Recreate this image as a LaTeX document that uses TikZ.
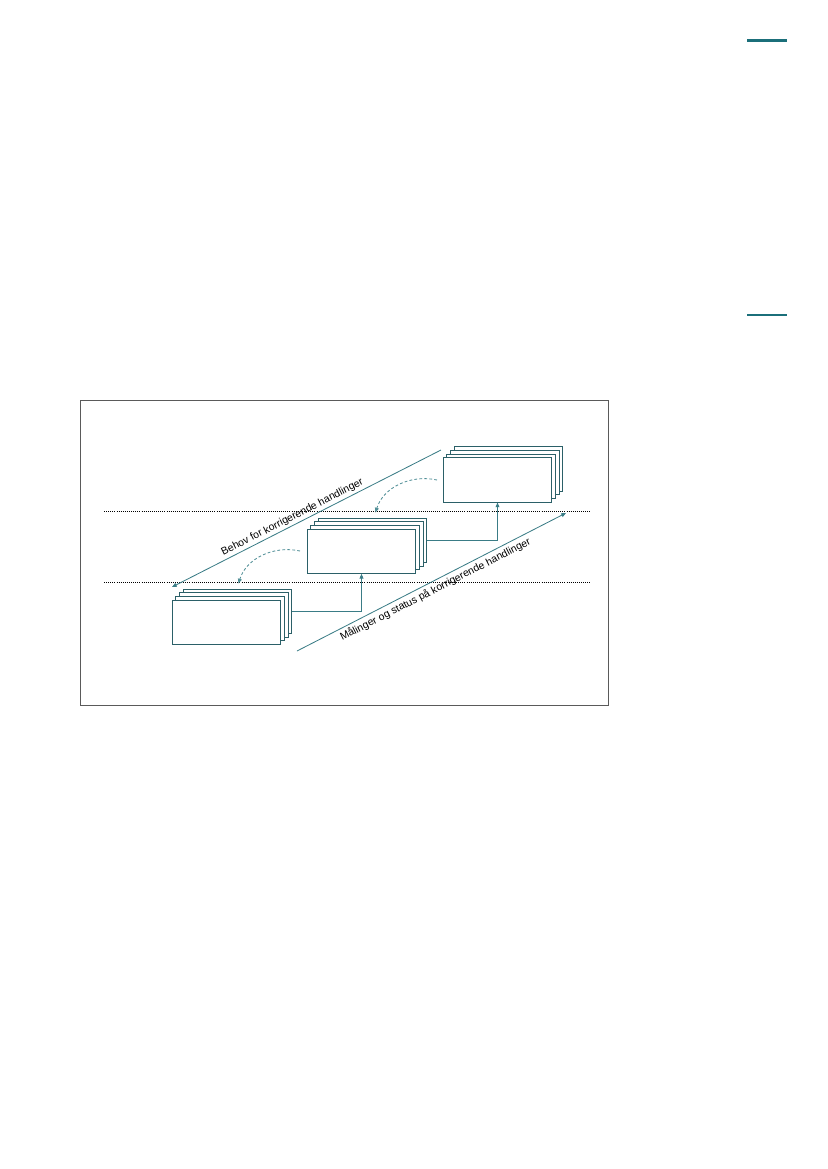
\documentclass[tikz,border=0pt]{standalone}
\usepackage{fontspec}
\setmainfont{Liberation Sans}
\usetikzlibrary{arrows.meta}
\definecolor{boxteal}{HTML}{2B6068}
\definecolor{lineteal}{HTML}{3A7C86}
\definecolor{dashteal}{HTML}{4F8E96}
\definecolor{barteal}{HTML}{1B6F7A}
\definecolor{framegray}{HTML}{5A5A5A}
\tikzset{
  stackbox/.style={draw=boxteal, fill=white, line width=0.72pt, inner sep=0pt,
    minimum width=78.1pt, minimum height=31.7pt},
  tip/.style={-{Triangle[length=3.4pt,width=2.8pt]}},
  conn/.style={tip, draw=lineteal, line width=0.6pt},
  diag/.style={tip, draw=lineteal, line width=0.6pt},
  curvearrow/.style={tip, draw=dashteal, line width=0.6pt, dash pattern=on 2pt off 1.6pt},
  levelline/.style={draw=black, line width=0.55pt, dash pattern=on 0.75pt off 0.75pt},
  lbl/.style={font=\fontsize{7.5}{9}\selectfont, inner sep=1pt},
  bar/.style={draw=barteal}
}
\begin{document}
\begin{tikzpicture}[x=0.72pt,y=-0.72pt]
\useasboundingbox (0,0) rectangle (827,1169);

% page marks
\draw[bar, line width=2.2pt] (747,40.7) -- (787,40.7);
\draw[bar, line width=1.5pt] (747,315) -- (787,315);

% frame
\draw[framegray, line width=0.7pt] (80.3,400.7) rectangle (608.7,705);

% level lines
\coordinate (l1a) at (104,511.5);
\coordinate (l1b) at (591,511.5);
\coordinate (l2a) at (104,582);
\coordinate (l2b) at (591,582);
\draw[levelline] (l1a) -- (l1b);
\draw[levelline] (l2a) -- (l2b);

% top-right stack
\node[stackbox] (tr3) at (508.5,469) {};
\node[stackbox] (tr2) at (504.8,472.7) {};
\node[stackbox] (tr1) at (501.2,476.3) {};
\node[stackbox] (tr0) at (497.5,480) {};

% middle stack
\node[stackbox] (md3) at (372.5,540.3) {};
\node[stackbox] (md2) at (368.8,544) {};
\node[stackbox] (md1) at (365.2,547.6) {};
\node[stackbox] (md0) at (361.5,551.3) {};

% bottom-left stack
\node[stackbox] (bl3) at (237.5,611.3) {};
\node[stackbox] (bl2) at (233.8,615) {};
\node[stackbox] (bl1) at (230.2,618.6) {};
\node[stackbox] (bl0) at (226.5,622.3) {};

% connectors between stacks
\draw[conn] (bl3.east) -| (md0.south);
\draw[conn] (md3.east) -| (tr0.south);

% diagonal arrows
\coordinate (b1) at (441,450);
\coordinate (b2) at (172,587);
\coordinate (m1) at (297,651);
\coordinate (m2) at (566,513);
\draw[diag, {Triangle[length=3.4pt,width=2.8pt]}-] (b2) --
  node[lbl, sloped, above, pos=0.46, yshift=0.5pt] (behov) {Behov for korrigerende handlinger} (b1);
\draw[diag] (m1) --
  node[lbl, sloped, below, pos=0.5, yshift=-1pt] (maal) {Målinger og status på korrigerende handlinger} (m2);

% dashed curved arrows
\coordinate (d1s) at (437,480);
\coordinate (d1e) at (375.5,512.5);
\coordinate (d2s) at (300,551);
\coordinate (d2e) at (238.5,583.5);
\draw[curvearrow] (d1s) .. controls (410,474) and (383,488) .. (d1e);
\draw[curvearrow] (d2s) .. controls (273,545) and (246,559) .. (d2e);
\end{tikzpicture}
\end{document}
